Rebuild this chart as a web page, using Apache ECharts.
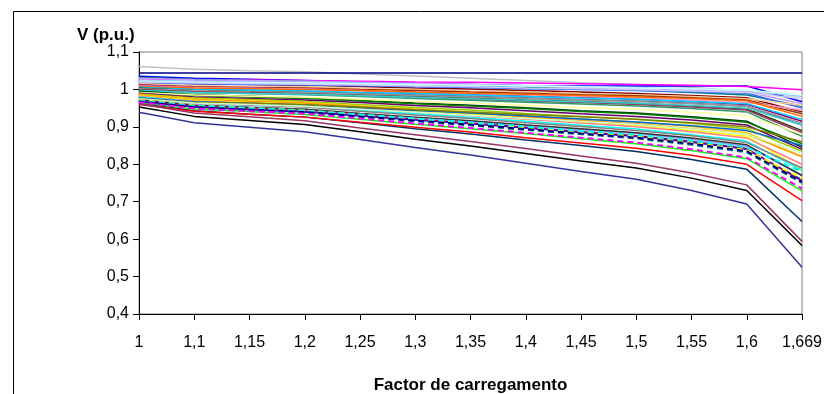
<!DOCTYPE html>
<html>
<head>
<meta charset="utf-8">
<script src="https://cdn.jsdelivr.net/npm/echarts@6/dist/echarts.min.js"></script>
<style>
  html, body { margin: 0; padding: 0; background: #fff; }
  #chart { width: 824px; height: 394px; }
</style>
</head>
<body>
<div id="chart"></div>
<script>
// loading factor (x axis categories)
const factors = ['1', '1,1', '1,15', '1,2', '1,25', '1,3', '1,35', '1,4', '1,45', '1,5', '1,55', '1,6', '1,669'];

// bus voltages (p.u.), one array per bus
const bus01 = [1.061, 1.054, 1.050, 1.047, 1.041, 1.036, 1.030, 1.024, 1.018, 1.013, 1.005, 0.995, 0.975];
const bus02 = [1.044, 1.044, 1.044, 1.044, 1.044, 1.044, 1.044, 1.044, 1.044, 1.044, 1.044, 1.044, 1.044];
const bus03 = [1.035, 1.030, 1.027, 1.024, 1.020, 1.016, 1.013, 1.010, 1.009, 1.009, 1.009, 1.009, 0.967];
const bus04 = [1.028, 1.026, 1.025, 1.024, 1.022, 1.020, 1.019, 1.017, 1.015, 1.013, 1.011, 1.008, 0.999];
const bus05 = [1.032, 1.027, 1.024, 1.022, 1.018, 1.014, 1.010, 1.006, 1.002, 0.998, 0.992, 0.985, 0.955];
const bus06 = [1.030, 1.026, 1.024, 1.022, 1.019, 1.016, 1.013, 1.010, 1.006, 1.003, 0.998, 0.993, 0.962];
const bus07 = [1.025, 1.022, 1.020, 1.019, 1.017, 1.014, 1.012, 1.010, 1.007, 1.005, 1.001, 0.997, 0.981];
const bus08 = [1.020, 1.015, 1.013, 1.011, 1.008, 1.004, 1.001, 0.997, 0.993, 0.989, 0.984, 0.978, 0.940];
const bus09 = [1.018, 1.015, 1.013, 1.012, 1.010, 1.007, 1.005, 1.002, 1.000, 0.997, 0.994, 0.990, 0.950];
const bus10 = [1.015, 1.010, 1.008, 1.007, 1.003, 1.000, 0.996, 0.993, 0.989, 0.986, 0.981, 0.975, 0.958];
const bus11 = [1.012, 1.007, 1.005, 1.004, 1.000, 0.997, 0.993, 0.990, 0.986, 0.983, 0.978, 0.972, 0.935];
const bus12 = [1.012, 1.006, 1.004, 1.001, 0.997, 0.992, 0.988, 0.983, 0.979, 0.974, 0.968, 0.960, 0.915];
const bus13 = [1.010, 1.005, 1.003, 1.001, 0.997, 0.993, 0.989, 0.985, 0.981, 0.977, 0.972, 0.965, 0.945];
const bus14 = [1.008, 1.004, 1.002, 1.000, 0.997, 0.993, 0.990, 0.987, 0.984, 0.980, 0.976, 0.970, 0.928];
const bus15 = [1.006, 1.000, 0.998, 0.995, 0.991, 0.986, 0.982, 0.978, 0.973, 0.969, 0.963, 0.955, 0.905];
const bus16 = [1.005, 1.000, 0.998, 0.996, 0.992, 0.989, 0.985, 0.981, 0.977, 0.974, 0.968, 0.962, 0.920];
const bus17 = [1.003, 0.997, 0.994, 0.991, 0.987, 0.982, 0.977, 0.972, 0.968, 0.963, 0.956, 0.948, 0.890];
const bus18 = [1.002, 0.997, 0.994, 0.992, 0.988, 0.984, 0.980, 0.976, 0.972, 0.968, 0.962, 0.955, 0.910];
const bus19 = [1.000, 0.994, 0.991, 0.988, 0.984, 0.979, 0.974, 0.969, 0.965, 0.960, 0.953, 0.945, 0.885];
const bus20 = [0.998, 0.991, 0.989, 0.986, 0.981, 0.976, 0.971, 0.966, 0.961, 0.956, 0.949, 0.940, 0.875];
const bus21 = [0.997, 0.992, 0.989, 0.987, 0.983, 0.979, 0.975, 0.971, 0.967, 0.963, 0.957, 0.950, 0.905];
const bus22 = [0.995, 0.986, 0.982, 0.978, 0.971, 0.964, 0.958, 0.951, 0.943, 0.937, 0.927, 0.915, 0.845];
const bus23 = [0.993, 0.984, 0.980, 0.976, 0.969, 0.962, 0.956, 0.949, 0.941, 0.935, 0.925, 0.912, 0.855];
const bus24 = [0.992, 0.985, 0.982, 0.979, 0.974, 0.968, 0.963, 0.958, 0.952, 0.947, 0.939, 0.930, 0.880];
const bus25 = [0.990, 0.980, 0.976, 0.972, 0.965, 0.957, 0.951, 0.943, 0.935, 0.928, 0.918, 0.905, 0.840];
const bus26 = [0.988, 0.977, 0.973, 0.968, 0.960, 0.952, 0.945, 0.936, 0.928, 0.920, 0.909, 0.895, 0.835];
const bus27 = [0.986, 0.975, 0.970, 0.965, 0.956, 0.948, 0.939, 0.930, 0.921, 0.913, 0.901, 0.885, 0.820];
const bus28 = [0.985, 0.973, 0.968, 0.963, 0.954, 0.945, 0.936, 0.927, 0.917, 0.908, 0.895, 0.880, 0.820];
const bus29 = [0.983, 0.971, 0.965, 0.960, 0.951, 0.942, 0.933, 0.923, 0.913, 0.904, 0.891, 0.875, 0.785];
const bus30 = [0.982, 0.969, 0.964, 0.958, 0.949, 0.939, 0.930, 0.920, 0.910, 0.900, 0.887, 0.870, 0.800];
const bus31 = [0.980, 0.967, 0.961, 0.955, 0.945, 0.935, 0.925, 0.915, 0.904, 0.894, 0.879, 0.862, 0.783];
const bus32 = [0.978, 0.964, 0.958, 0.953, 0.942, 0.932, 0.922, 0.911, 0.901, 0.890, 0.876, 0.858, 0.790];
const bus33 = [0.977, 0.967, 0.963, 0.959, 0.951, 0.944, 0.937, 0.929, 0.921, 0.913, 0.903, 0.890, 0.850];
const bus34 = [0.975, 0.966, 0.963, 0.959, 0.953, 0.946, 0.940, 0.933, 0.927, 0.920, 0.911, 0.900, 0.860];
const bus35 = [0.975, 0.964, 0.960, 0.955, 0.947, 0.939, 0.931, 0.922, 0.914, 0.906, 0.894, 0.880, 0.830];
const bus36 = [0.973, 0.959, 0.953, 0.947, 0.936, 0.925, 0.915, 0.904, 0.892, 0.882, 0.866, 0.848, 0.770];
const bus37 = [0.972, 0.958, 0.952, 0.947, 0.936, 0.926, 0.916, 0.905, 0.895, 0.884, 0.870, 0.852, 0.770];
const bus38 = [1.022, 1.019, 1.018, 1.017, 1.015, 1.013, 1.011, 1.009, 1.007, 1.004, 1.002, 0.998, 0.985];
const bus39 = [1.020, 1.017, 1.015, 1.014, 1.012, 1.009, 1.007, 1.004, 1.002, 0.999, 0.996, 0.992, 0.975];
const bus40 = [0.963, 0.943, 0.934, 0.926, 0.911, 0.895, 0.881, 0.865, 0.850, 0.834, 0.813, 0.787, 0.647];
const bus41 = [0.965, 0.948, 0.941, 0.933, 0.920, 0.907, 0.895, 0.882, 0.868, 0.855, 0.837, 0.815, 0.729];
const bus42 = [0.960, 0.942, 0.934, 0.926, 0.912, 0.899, 0.886, 0.871, 0.857, 0.843, 0.824, 0.800, 0.703];
const bus43 = [0.953, 0.928, 0.917, 0.906, 0.887, 0.867, 0.849, 0.829, 0.809, 0.790, 0.763, 0.730, 0.583];
const bus44 = [0.962, 0.937, 0.927, 0.916, 0.897, 0.879, 0.861, 0.842, 0.822, 0.803, 0.777, 0.745, 0.594];
const bus45 = [0.939, 0.911, 0.899, 0.887, 0.866, 0.845, 0.825, 0.803, 0.781, 0.760, 0.730, 0.694, 0.525];
const bus46 = [0.967, 0.953, 0.946, 0.940, 0.929, 0.918, 0.908, 0.897, 0.885, 0.874, 0.859, 0.840, 0.758];
const bus47 = [0.969, 0.955, 0.948, 0.942, 0.931, 0.920, 0.910, 0.899, 0.887, 0.876, 0.861, 0.842, 0.755];
const bus48 = [0.972, 0.957, 0.950, 0.944, 0.932, 0.921, 0.910, 0.898, 0.886, 0.874, 0.858, 0.838, 0.762];
const bus49 = [0.970, 0.956, 0.950, 0.943, 0.933, 0.922, 0.912, 0.901, 0.889, 0.879, 0.863, 0.845, 0.780];
const bus50 = [0.967, 0.952, 0.945, 0.938, 0.927, 0.915, 0.904, 0.892, 0.880, 0.869, 0.852, 0.832, 0.750];
const bus51 = [0.968, 0.953, 0.946, 0.940, 0.928, 0.917, 0.906, 0.894, 0.882, 0.871, 0.855, 0.835, 0.752];
const bus52 = [0.966, 0.949, 0.942, 0.935, 0.922, 0.909, 0.897, 0.884, 0.871, 0.858, 0.840, 0.818, 0.735];

const buses = [bus01, bus02, bus03, bus04, bus05, bus06, bus07, bus08, bus09, bus10,
  bus11, bus12, bus13, bus14, bus15, bus16, bus17, bus18, bus19, bus20,
  bus21, bus22, bus23, bus24, bus25, bus26, bus27, bus28, bus29, bus30,
  bus31, bus32, bus33, bus34, bus35, bus36, bus37, bus38, bus39, bus40,
  bus41, bus42, bus43, bus44, bus45, bus46, bus47, bus48, bus49, bus50,
  bus51, bus52];

// old excel style line colours, the last few repeat as dashed
const lineColors = ['#C0C0C0', '#000080', '#0000FF', '#FF00FF', '#008080', '#CC99FF', '#99CCFF', '#800000', '#3366FF', '#FFCC99',
  '#993300', '#800080', '#FF99CC', '#FF6600', '#666699', '#00CCFF', '#333300', '#969696', '#993366', '#339966',
  '#33CCCC', '#003300', '#008000', '#FFFF99', '#660066', '#99CC00', '#FFCC00', '#FF9900', '#FFFF00', '#FF8080',
  '#00FFFF', '#808080', '#0066CC', '#808000', '#CCFFCC', '#9999FF', '#333333', '#CCFFFF', '#CCCCFF', '#003366',
  '#00FF00', '#FF0000', '#000000', '#993366', '#333399', '#0000FF', '#800080', '#FFFF00', '#00FFFF', '#008080',
  '#000080', '#FF00FF'];
const dashedFrom = 47;

const myChart = echarts.init(document.getElementById('chart'));

const mySeries = buses.map(function (vals, i) {
  const dashed = i >= dashedFrom;
  return {
    type: 'line',
    data: vals,
    showSymbol: false,
    silent: true,
    lineStyle: {
      color: lineColors[i],
      width: dashed ? 2 : 1.5,
      type: dashed ? [6, 4] : 'solid'
    }
  };
});

const fmt = function (v) {
  return String(Math.round(v * 10) / 10).replace('.', ',');
};

myChart.setOption({
  animation: false,
  textStyle: { fontFamily: 'Liberation Sans' },
  title: {
    text: 'V (p.u.)',
    left: 72,
    top: 22,
    textStyle: { fontSize: 17, fontWeight: 'bold', color: '#000', fontFamily: 'Liberation Sans' }
  },
  graphic: [{
    type: 'rect',
    shape: { x: 13.5, y: 11.5, width: 840, height: 420 },
    style: { fill: null, stroke: '#000', lineWidth: 1 },
    silent: true
  }],
  grid: {
    left: 139,
    right: 22,
    top: 52,
    bottom: 80,
    outerBoundsMode: 'none',
    show: true,
    borderColor: '#808080',
    borderWidth: 1
  },
  xAxis: {
    type: 'category',
    data: factors,
    boundaryGap: false,
    name: 'Factor de carregamento',
    nameLocation: 'middle',
    nameGap: 63,
    nameTextStyle: { fontSize: 17, fontWeight: 'bold', color: '#000' },
    axisLine: { lineStyle: { color: '#000', width: 1 } },
    axisTick: { show: true, length: 6, alignWithLabel: true, lineStyle: { color: '#000' } },
    axisLabel: { fontSize: 16, color: '#000', margin: 21, interval: 0 },
    splitLine: { show: false }
  },
  yAxis: {
    type: 'value',
    min: 0.4,
    max: 1.1,
    interval: 0.1,
    axisLine: { show: true, lineStyle: { color: '#000', width: 1 } },
    axisTick: { show: true, length: 6, lineStyle: { color: '#000' } },
    axisLabel: { fontSize: 16, color: '#000', margin: 10, formatter: fmt },
    splitLine: { show: false }
  },
  series: mySeries
});
</script>
</body>
</html>
